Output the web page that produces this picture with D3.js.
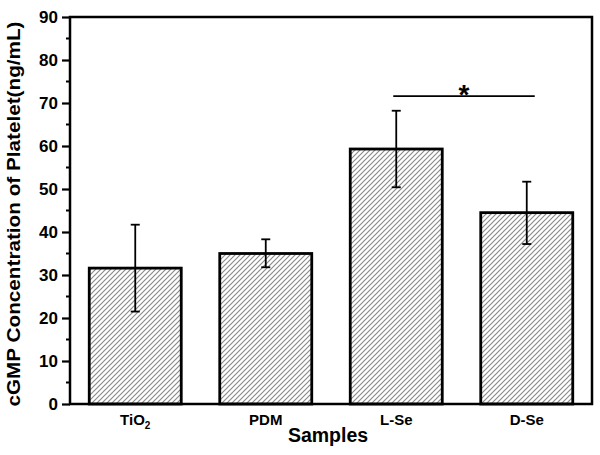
<!DOCTYPE html>
<html>
<head>
<meta charset="utf-8">
<script src="https://cdn.jsdelivr.net/npm/d3@7"></script>
<style>
  body { margin: 0; background: #fff; }
  text { font-family: "Liberation Sans", Arial, sans-serif; font-weight: bold; }
</style>
</head>
<body>
<div id="chart"></div>
<script>
// data
var samples = ["TiO2", "PDM", "L-Se", "D-Se"]
var means = [31.6, 35.0, 59.3, 44.5]
var errUpper = [41.7, 38.3, 68.2, 51.7]
var errLower = [21.5, 31.8, 50.4, 37.2]
var yTicks = [0, 10, 20, 30, 40, 50, 60, 70, 80, 90]
var sigPair = ["L-Se", "D-Se"]
var sigLevel = 71.6

var width = 600
var height = 455
var margin = {top: 17, right: 8, bottom: 51, left: 70}

var svg = d3.select("#chart")
  .append("svg")
  .attr("width", width)
  .attr("height", height)

// hatch pattern
var defs = svg.append("defs")
defs.append("pattern")
    .attr("id", "hatch")
    .attr("patternUnits", "userSpaceOnUse")
    .attr("width", 5)
    .attr("height", 5)
  .append("path")
    .attr("d", "M-1,1 l2,-2 M0,5 l5,-5 M4,6 l2,-2")
    .attr("stroke", "#8a8a8a")
    .attr("stroke-width", 1.2)

var x = d3.scaleBand()
    .domain(samples)
    .range([margin.left, width - margin.right])
    .paddingInner(0.295)
    .paddingOuter(0.1475)

var y = d3.scaleLinear()
    .domain([0, 90])
    .range([height - margin.bottom, margin.top])

// bars
svg.append("g")
  .selectAll("rect")
  .data(samples)
  .enter()
  .append("rect")
    .attr("x", function(d) { return x(d) })
    .attr("y", function(d, i) { return y(means[i]) })
    .attr("width", x.bandwidth())
    .attr("height", function(d, i) { return y(0) - y(means[i]) })
    .attr("fill", "url(#hatch)")
    .attr("stroke", "#000")
    .attr("stroke-width", 2.8)

// error bars
var eb = svg.append("g").attr("stroke", "#000").attr("stroke-width", 1.8)
samples.forEach(function(d, i) {
  var cx = x(d) + x.bandwidth() / 2
  eb.append("line")
    .attr("x1", cx).attr("x2", cx)
    .attr("y1", y(errUpper[i])).attr("y2", y(errLower[i]))
  eb.append("line")
    .attr("x1", cx - 4.5).attr("x2", cx + 4.5)
    .attr("y1", y(errUpper[i])).attr("y2", y(errUpper[i]))
  eb.append("line")
    .attr("x1", cx - 4.5).attr("x2", cx + 4.5)
    .attr("y1", y(errLower[i])).attr("y2", y(errLower[i]))
})

// significance bracket
var sx1 = x(sigPair[0]) + x.bandwidth() / 2 - 3
var sx2 = x(sigPair[1]) + x.bandwidth() / 2 + 8
svg.append("line")
    .attr("x1", sx1).attr("x2", sx2)
    .attr("y1", y(sigLevel)).attr("y2", y(sigLevel))
    .attr("stroke", "#000")
    .attr("stroke-width", 1.8)
svg.append("text")
    .attr("x", (sx1 + sx2) / 2)
    .attr("y", y(sigLevel) + 8)
    .attr("text-anchor", "middle")
    .attr("font-size", "28px")
    .text("*")

// frame
svg.append("rect")
    .attr("x", margin.left)
    .attr("y", margin.top)
    .attr("width", width - margin.left - margin.right)
    .attr("height", height - margin.top - margin.bottom)
    .attr("fill", "none")
    .attr("stroke", "#000")
    .attr("stroke-width", 2.5)

// y axis
var yAxis = svg.append("g")
    .attr("transform", "translate(" + margin.left + ",0)")
    .call(d3.axisLeft(y).tickValues(yTicks).tickSize(8).tickPadding(4))
yAxis.select(".domain").remove()
yAxis.selectAll("line").attr("stroke-width", 2.2)
yAxis.selectAll("text")
    .attr("font-size", "17px")
    .attr("fill", "#000")

// minor ticks
svg.append("g")
  .selectAll("line")
  .data(yTicks.slice(0, -1).map(function(v) { return v + 5 }))
  .enter()
  .append("line")
    .attr("x1", margin.left - 4).attr("x2", margin.left)
    .attr("y1", function(d) { return y(d) })
    .attr("y2", function(d) { return y(d) })
    .attr("stroke", "#000")
    .attr("stroke-width", 2)

// x tick labels
var xl = svg.append("g")
  .selectAll("text")
  .data(samples)
  .enter()
  .append("text")
    .attr("x", function(d) { return x(d) + x.bandwidth() / 2 })
    .attr("y", height - margin.bottom + 21)
    .attr("text-anchor", "middle")
    .attr("font-size", "15px")
xl.each(function(d) {
  var t = d3.select(this)
  if (d == "TiO2") {
    t.append("tspan").text("TiO")
    t.append("tspan").text("2").attr("font-size", "10px").attr("dy", 4)
  } else {
    t.text(d)
  }
})

// axis titles
svg.append("text")
    .attr("x", (margin.left + width - margin.right) / 2 - 3)
    .attr("y", 442)
    .attr("text-anchor", "middle")
    .attr("font-size", "19.5px")
    .text("Samples")

svg.append("text")
    .attr("transform", "translate(20,214) rotate(-90)")
    .attr("text-anchor", "middle")
    .attr("font-size", "19px")
    .attr("textLength", 385)
    .attr("lengthAdjust", "spacingAndGlyphs")
    .text("cGMP Concentration of Platelet(ng/mL)")
</script>
</body>
</html>
